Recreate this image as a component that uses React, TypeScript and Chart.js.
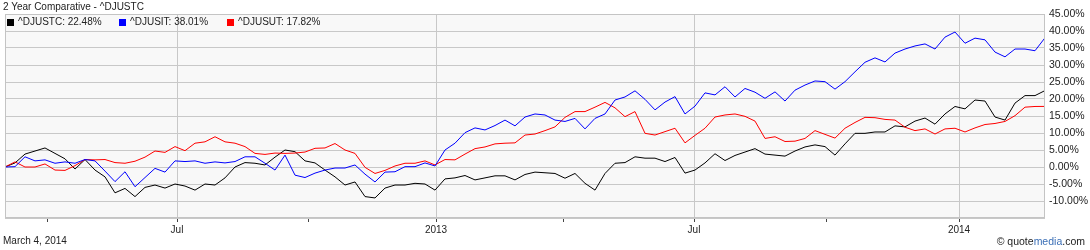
import React, { useEffect, useRef } from 'react';
import { Chart, registerables } from 'chart.js';

Chart.register(...registerables);

// Weekly closes, % change since start (Mar 2012 -> Mar 4, 2014)
const djustc = [
  0, 1.2, 3.8, 4.7, 5.6, 4.0, 2.4, -0.6, 2.2, -0.9,
  -2.9, -7.6, -6.3, -8.7, -6.0, -5.3, -6.2, -5.0, -5.6, -6.8,
  -5.0, -5.3, -3.2, 0, 1.3, 1.1, 0.6, 2.9, 5.0, 4.5,
  1.8, 1.2, -0.9, -2.9, -5.3, -4.4, -8.7, -9.1, -6.2, -5.3,
  -5.3, -4.8, -5.0, -6.8, -3.5, -3.2, -2.5, -3.8, -3.2, -2.6,
  -2.6, -3.8, -2.2, -1.5, -1.7, -1.9, -3.3, -1.9, -4.8, -6.8,
  -1.9, 1.1, 1.3, 3.0, 2.6, 2.6, 1.6, 2.8, -1.8, -0.9,
  1.2, 3.9, 1.9, 3.4, 4.4, 5.4, 3.8, 3.5, 3.2, 4.7,
  5.9, 6.5, 6.0, 3.5, 6.8, 9.9, 9.9, 10.3, 10.3, 12.1,
  11.8, 13.5, 14.4, 12.6, 15.6, 17.8, 17.1, 19.7, 19.4, 14.7,
  13.8, 18.8, 21.0, 21.0, 22.48,
];

const djusit = [
  0, 0.1, 3.0, 1.8, 2.1, 1.1, 1.5, 1.1, 2.2, 1.8,
  -1.2, -4.3, -1.4, -5.8, -3.1, -0.4, -1.5, 1.8, 1.6, 1.8,
  1.1, 1.5, 1.2, 1.6, 3.0, 3.0, 1.1, -0.9, 3.5, -2.4,
  -3.1, -1.8, -0.9, -0.3, -0.3, 0.6, -2.1, -4.4, -1.5, -1.4,
  0.1, 0.1, 1.2, 0.3, 5.0, 7.0, 10.1, 11.5, 10.9, 12.2,
  13.8, 12.1, 14.7, 15.6, 15.3, 13.8, 13.4, 14.3, 11.2, 14.3,
  15.6, 19.7, 20.6, 22.4, 19.9, 16.8, 19.1, 20.7, 15.6, 17.9,
  21.8, 21.2, 23.6, 20.6, 23.1, 22.0, 20.2, 22.1, 19.4, 22.6,
  24.1, 25.3, 25.1, 22.9, 25.1, 28.0, 30.8, 32.1, 30.9, 33.5,
  34.7, 35.6, 36.2, 34.7, 38.2, 39.7, 36.4, 37.9, 37.4, 33.8,
  32.4, 34.7, 34.7, 34.2, 38.01,
];

const djusut = [
  0, 1.5, 0, 0, 0.9, -0.9, -1.0, 0.4, 2.2, 2.1,
  2.2, 1.3, 1.1, 1.7, 2.9, 4.7, 4.3, 6.0, 4.8, 7.0,
  7.4, 8.9, 7.4, 7.0, 6.0, 4.0, 3.7, 4.1, 4.0, 4.1,
  4.4, 5.5, 5.6, 6.9, 5.0, 4.0, -0.1, -1.9, -1.0, 0.3,
  1.1, 1.1, 1.8, 0.6, 2.2, 2.1, 3.8, 5.4, 5.9, 6.8,
  7.0, 7.1, 9.4, 9.7, 10.7, 11.8, 14.6, 16.3, 16.3, 17.6,
  19.0, 17.4, 14.8, 16.3, 9.9, 9.4, 10.4, 11.4, 7.1, 9.3,
  11.4, 14.7, 15.3, 15.6, 14.9, 13.5, 8.4, 8.9, 7.5, 7.6,
  8.4, 10.7, 9.6, 8.5, 11.4, 13.1, 14.6, 14.5, 14.0, 13.8,
  11.7, 10.7, 11.2, 9.7, 11.2, 11.4, 10.3, 11.5, 12.5, 12.8,
  13.4, 15.1, 17.6, 17.8, 17.82,
];

// x tick positions in weeks from start, and their labels
const xTickWeeks = [4.2, 17.2, 30.3, 43.1, 55.8, 68.9, 82.1, 95.4];
const xTickLabels = ['', 'Jul', '', '2013', '', 'Jul', '', '2014'];

const seriesNames = ['^DJUSTC', '^DJUSIT', '^DJUSUT'];
const seriesColors = ['#000000', '#0000ff', '#ff0000'];
const seriesLast = ['22.48%', '38.01%', '17.82%'];

const titleText = '2 Year Comparative - ^DJUSTC';
const dateText = 'March 4, 2014';

const FONT = '"Liberation Sans", Arial, sans-serif';

const plotFrame = {
  id: 'plotFrame',
  beforeDraw(chart: any) {
    const { ctx, chartArea: a } = chart;
    ctx.save();
    ctx.fillStyle = '#f8f8f8';
    ctx.fillRect(a.left, a.top, a.right - a.left, a.bottom - a.top);
    ctx.restore();
  },
  afterDraw(chart: any) {
    const { ctx, chartArea: a } = chart;
    ctx.save();
    ctx.strokeStyle = '#c4c4c4';
    ctx.lineWidth = 1;
    ctx.strokeRect(Math.round(a.left) + 0.5, Math.round(a.top) + 0.5, Math.round(a.right - a.left) - 1, Math.round(a.bottom - a.top) - 1);
    ctx.restore();
  },
};

export default function App() {
  const ref = useRef<HTMLCanvasElement>(null);

  useEffect(() => {
    document.body.style.margin = '0';
    const series = [djustc, djusit, djusut];
    const order = [1, 2, 0];
    const chart = new Chart(ref.current as HTMLCanvasElement, {
      type: 'line',
      data: {
        datasets: order.map((s) => ({
          label: seriesNames[s],
          data: series[s].map((v, i) => ({ x: i, y: v })),
          borderColor: seriesColors[s],
          borderWidth: 1,
          pointRadius: 0,
          tension: 0,
          fill: false,
        })),
      },
      options: {
        animation: false,
        responsive: false,
        maintainAspectRatio: false,
        events: [],
        layout: { padding: { top: 14, left: 5, right: 0, bottom: 0 } },
        plugins: { legend: { display: false }, tooltip: { enabled: false }, title: { display: false } },
        scales: {
          x: {
            type: 'linear',
            min: 0,
            max: djustc.length - 1,
            afterBuildTicks: (scale: any) => {
              scale.ticks = xTickWeeks.map((v) => ({ value: v }));
            },
            afterFit: (scale: any) => {
              scale.height = 32;
            },
            ticks: {
              autoSkip: false,
              maxRotation: 0,
              padding: 2,
              color: '#222',
              font: { family: FONT, size: 10 },
              callback: (_v: any, i: number) => xTickLabels[i],
            },
            grid: {
              color: (c: any) => (xTickLabels[c.index] ? '#c8c8c8' : 'rgba(0,0,0,0)'),
              tickColor: '#444',
              tickLength: 4,
              lineWidth: 1,
            },
            border: { display: false },
          },
          y: {
            position: 'right',
            min: -15,
            max: 45,
            afterFit: (scale: any) => {
              scale.width = 45;
            },
            ticks: {
              stepSize: 5,
              padding: 4,
              color: '#222',
              font: { family: FONT, size: 10.5 },
              callback: (v: any) => (v === -15 ? '' : Number(v).toFixed(2) + '%'),
            },
            grid: { color: '#c8c8c8', drawTicks: false, lineWidth: 1 },
            border: { display: false },
          },
        },
      },
      plugins: [plotFrame],
    } as any);
    return () => chart.destroy();
  }, []);

  const txt: React.CSSProperties = {
    position: 'absolute',
    fontFamily: FONT,
    fontSize: 10,
    color: '#222',
    whiteSpace: 'nowrap',
    lineHeight: '12px',
  };

  return (
    <div style={{ position: 'relative', width: 1090, height: 250, background: '#fff' }}>
      <canvas ref={ref} width={1090} height={250} style={{ display: 'block' }} />
      <div style={{ ...txt, left: 3, top: 1 }}>{titleText}</div>
      {seriesNames.map((n, i) => (
        <div key={n} style={{ ...txt, left: [7, 119, 227][i], top: 16, display: 'flex', alignItems: 'center' }}>
          <span style={{ display: 'inline-block', width: 7, height: 7, background: seriesColors[i], marginRight: 4 }} />
          <span>{n}: {seriesLast[i]}</span>
        </div>
      ))}
      <div style={{ ...txt, left: 3, top: 235 }}>{dateText}</div>
      <div style={{ ...txt, right: 5, top: 235, fontSize: 10.5 }}>
        © quote<span style={{ color: '#3b6fb6' }}>media</span>.com
      </div>
    </div>
  );
}
